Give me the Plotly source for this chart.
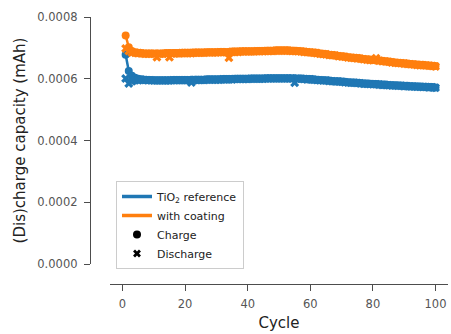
import plotly.graph_objects as go

# Values in units of 1e-4 mAh
cycles = list(range(1, 101))

tio2_charge = [6.78,6.25,6.10,6.03,6.00,5.98,5.97,5.96,5.96,5.95,
5.95,5.95,5.95,5.95,5.95,5.96,5.96,5.96,5.96,5.96,
5.96,5.97,5.97,5.97,5.97,5.97,5.98,5.98,5.98,5.98,
5.98,5.99,5.99,5.99,5.99,6.00,6.00,6.00,6.00,6.00,
6.01,6.01,6.01,6.01,6.01,6.02,6.02,6.02,6.02,6.02,
6.02,6.02,6.02,6.02,6.02,6.01,6.01,6.00,5.99,5.99,
5.98,5.97,5.96,5.95,5.95,5.94,5.93,5.92,5.92,5.91,
5.90,5.89,5.88,5.88,5.87,5.86,5.85,5.85,5.84,5.83,
5.83,5.82,5.81,5.81,5.80,5.79,5.79,5.78,5.78,5.77,
5.77,5.76,5.76,5.75,5.75,5.74,5.74,5.73,5.73,5.72]

tio2_discharge = [6.01,5.85,5.92,5.95,5.95,5.97,5.96,5.95,5.95,5.94,
5.94,5.94,5.94,5.94,5.94,5.95,5.95,5.95,5.95,5.95,
5.95,5.88,5.96,5.96,5.96,5.96,5.97,5.97,5.97,5.97,
5.97,5.98,5.98,5.98,5.98,5.99,5.99,5.99,5.99,5.99,
6.00,6.00,6.00,6.00,6.00,6.01,6.01,6.01,6.01,6.01,
6.01,6.01,6.01,6.01,5.87,6.00,6.00,5.99,5.98,5.98,
5.97,5.96,5.95,5.94,5.94,5.93,5.92,5.91,5.91,5.90,
5.89,5.88,5.87,5.87,5.86,5.85,5.84,5.84,5.83,5.82,
5.82,5.81,5.80,5.80,5.79,5.78,5.78,5.77,5.77,5.76,
5.76,5.75,5.75,5.74,5.74,5.73,5.73,5.72,5.72,5.71]

coat_charge = [7.40,7.02,6.90,6.86,6.84,6.83,6.82,6.82,6.82,6.82,
6.82,6.82,6.82,6.83,6.83,6.83,6.83,6.83,6.84,6.84,
6.84,6.84,6.85,6.85,6.85,6.85,6.86,6.86,6.86,6.86,
6.87,6.87,6.87,6.87,6.88,6.88,6.88,6.89,6.89,6.89,
6.89,6.89,6.90,6.90,6.90,6.91,6.91,6.91,6.92,6.92,
6.92,6.92,6.92,6.91,6.91,6.90,6.89,6.88,6.87,6.86,
6.85,6.84,6.82,6.81,6.80,6.78,6.77,6.76,6.74,6.73,
6.72,6.70,6.69,6.68,6.67,6.66,6.64,6.63,6.62,6.61,
6.60,6.59,6.58,6.57,6.56,6.54,6.53,6.52,6.51,6.50,
6.49,6.48,6.47,6.46,6.45,6.45,6.44,6.43,6.42,6.41]

coat_discharge = [6.98,6.90,6.84,6.84,6.83,6.82,6.81,6.81,6.81,6.81,
6.70,6.81,6.81,6.82,6.70,6.82,6.82,6.82,6.83,6.83,
6.83,6.83,6.84,6.84,6.84,6.84,6.85,6.85,6.85,6.85,
6.86,6.86,6.86,6.68,6.87,6.87,6.87,6.88,6.88,6.88,
6.88,6.88,6.89,6.89,6.89,6.90,6.90,6.90,6.91,6.91,
6.91,6.91,6.91,6.90,6.90,6.89,6.88,6.87,6.86,6.85,
6.84,6.83,6.81,6.80,6.79,6.77,6.76,6.75,6.73,6.72,
6.71,6.69,6.68,6.67,6.66,6.65,6.63,6.62,6.61,6.60,
6.66,6.58,6.57,6.56,6.55,6.53,6.52,6.51,6.50,6.49,
6.48,6.47,6.46,6.45,6.44,6.44,6.43,6.42,6.41,6.40]

UNIT = 1e-4  # mAh
series = [
    ("TiO<sub>2</sub> reference", "#1f77b4", tio2_charge, tio2_discharge),
    ("with coating", "#ff7f0e", coat_charge, coat_discharge),
]

fig = go.Figure()
for name, color, ch, dis in series:
    fig.add_trace(go.Scatter(
        x=cycles, y=[v * UNIT for v in ch], mode="lines+markers",
        line=dict(color=color, width=2.5),
        marker=dict(symbol="circle", size=8, color=color),
        showlegend=False, hoverinfo="skip"))
    fig.add_trace(go.Scatter(
        x=cycles, y=[v * UNIT for v in dis], mode="markers",
        marker=dict(symbol="x", size=8, color=color),
        showlegend=False, hoverinfo="skip"))

# legend entries
for name, color, _, _ in series:
    fig.add_trace(go.Scatter(x=[None], y=[None], mode="lines", name=name,
                             line=dict(color=color, width=3.5)))
fig.add_trace(go.Scatter(x=[None], y=[None], mode="markers", name="Charge",
                         marker=dict(symbol="circle", size=8, color="black")))
fig.add_trace(go.Scatter(x=[None], y=[None], mode="markers", name="Discharge",
                         marker=dict(symbol="x", size=7, color="black")))

L, R, T, B = 90, 3, 17, 50
W, H = 451, 334
pw = W - L - R
ph = H - T - B
axis_col = "#4d4d4d"
tick_font = dict(family="DejaVu Sans", size=11.5, color="#555555")
title_font = dict(family="DejaVu Sans", size=15, color="#222222")
fig.update_layout(
    width=W, height=H,
    margin=dict(l=L, r=R, t=T, b=B),
    paper_bgcolor="white", plot_bgcolor="white",
    font=dict(family="DejaVu Sans", size=11, color="#222222"),
    xaxis=dict(
        domain=[(110 - L) / pw, 1], anchor="free", position=0,
        range=[-4, 104], tickvals=[0, 20, 40, 60, 80, 100],
        showgrid=False, zeroline=False,
        showline=True, linecolor=axis_col, linewidth=1.3,
        ticks="outside", ticklen=6, tickwidth=1.3, tickcolor=axis_col,
        ticklabelstandoff=3,
        tickfont=tick_font,
        title=dict(text="Cycle", font=title_font, standoff=7),
    ),
    yaxis=dict(
        domain=[(H - B - 264) / ph, 1], anchor="free", position=0,
        range=[0, 0.0008], tickvals=[0, 0.0002, 0.0004, 0.0006, 0.0008],
        tickformat=".4f",
        showgrid=False, zeroline=False,
        showline=True, linecolor=axis_col, linewidth=1.3,
        ticks="outside", ticklen=6, tickwidth=1.3, tickcolor=axis_col,
        ticklabelstandoff=4,
        tickfont=tick_font,
        title=dict(text="(Dis)charge capacity (mAh)", font=title_font, standoff=7),
    ),
    legend=dict(
        x=(116 - L) / pw, y=(H - B - 181) / ph, xanchor="left", yanchor="top",
        bgcolor="white", bordercolor="#cccccc", borderwidth=1,
        font=dict(family="DejaVu Sans", size=11, color="#222222"), tracegroupgap=0,
    ),
)

fig.write_html("out.html")
